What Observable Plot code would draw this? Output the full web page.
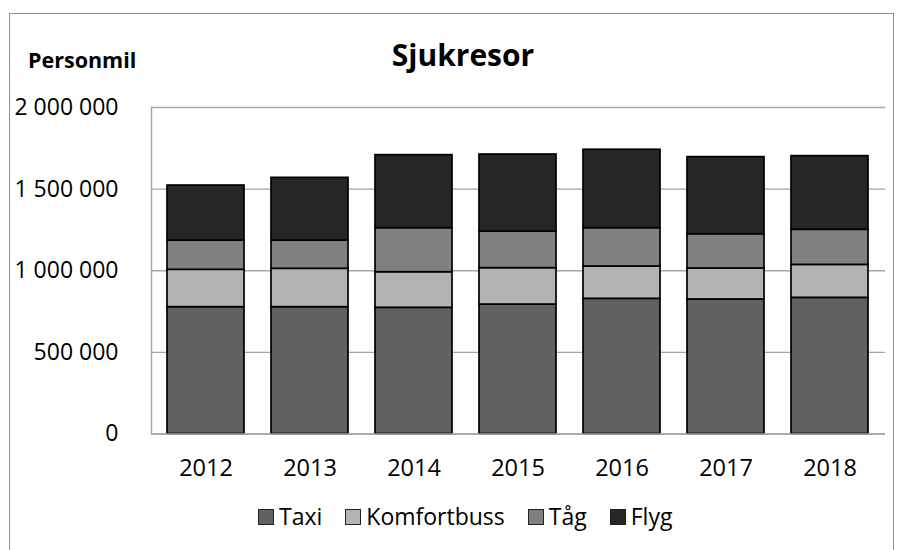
<!DOCTYPE html>
<html>
<head>
<meta charset="utf-8">
<script src="https://cdn.jsdelivr.net/npm/d3@7"></script>
<script src="https://cdn.jsdelivr.net/npm/@observablehq/plot@0.6"></script>
<style>
  html, body { margin: 0; padding: 0; background: #fff; overflow: hidden; }
  #wrap { position: relative; width: 903px; height: 550px; font-family: "Open Sans", sans-serif; color: #000; }
  #border { position: absolute; left: 9px; top: 13px; width: 885px; height: 600px; border: 1.5px solid #8c8c8c; box-sizing: border-box; }
  #chart { position: absolute; left: 0; top: 90px; }
  .txt { position: absolute; line-height: 1; white-space: nowrap; }
  #title { left: 0; width: 926px; text-align: center; top: 40px; font-size: 30px; font-weight: 700; }
  #ylab { left: 28px; top: 49px; font-size: 21.5px; font-weight: 700; }
  #legend { left: 258px; top: 505px; font-size: 23px; display: flex; gap: 23px; }
  .item { display: inline-block; }
  .sw { display: inline-block; width: 16px; height: 16px; border: 1.5px solid #222; box-sizing: border-box; margin-right: 5px; vertical-align: baseline; }
</style>
</head>
<body>
<div id="wrap">
  <div id="border"></div>
  <div id="chart"></div>
  <div id="title" class="txt">Sjukresor</div>
  <div id="ylab" class="txt">Personmil</div>
  <div id="legend" class="txt"></div>
</div>
<script>
const years = ["2012", "2013", "2014", "2015", "2016", "2017", "2018"];
const seriesNames = ["Taxi", "Komfortbuss", "Tåg", "Flyg"];
const taxi        = [777000, 777000, 773000, 793000, 828000, 824000, 834000];
const komfortbuss = [229000, 235000, 218000, 223000, 198000, 190000, 202000];
const tag         = [179000, 173000, 270000, 224000, 235000, 210000, 215000];
const flyg        = [337000, 384000, 447000, 472000, 480000, 472000, 451000];
const seriesColors = ["#616161", "#b3b3b3", "#808080", "#262626"];
const yTicks = [0, 500000, 1000000, 1500000, 2000000];

const seriesValues = [taxi, komfortbuss, tag, flyg];
const rows = [];
seriesNames.forEach((s, i) => {
  years.forEach((y, j) => rows.push({year: y, series: s, value: seriesValues[i][j]}));
});

const fmt = d3.formatLocale({decimal: ",", thousands: " ", grouping: [3], currency: ["", ""]}).format(",");

const plot = Plot.plot({
  width: 903,
  height: 400,
  marginLeft: 151,
  marginRight: 18,
  marginTop: 17,
  marginBottom: 56.5,
  style: {fontFamily: "Open Sans, sans-serif", fontSize: "23px", color: "#000", background: "transparent"},
  x: {domain: years, paddingInner: 0.257, paddingOuter: 0.1285, label: null},
  y: {domain: [0, 2000000], label: null},
  color: {domain: seriesNames, range: seriesColors},
  marks: [
    Plot.gridY(yTicks, {stroke: "#a6a6a6", strokeOpacity: 1, strokeWidth: 1.3}),
    Plot.barY(rows, {x: "year", y: "value", fill: "series", stroke: "#000", strokeWidth: 1.7, inset: 0}),
    Plot.ruleY([0], {stroke: "#a6a6a6", strokeWidth: 1.5}),
    Plot.frame({anchor: "left", stroke: "#a6a6a6", strokeWidth: 1.5}),
    Plot.axisY({ticks: yTicks, tickFormat: fmt, tickSize: 0, tickPadding: 33, fontSize: 23, fill: "#000", label: null}),
    Plot.axisX({tickSize: 0, tickPadding: 25, fontSize: 23.5, fill: "#000", label: null})
  ]
});
document.getElementById("chart").appendChild(plot);

const legend = document.getElementById("legend");
seriesNames.forEach((s, i) => {
  const item = document.createElement("span");
  item.className = "item";
  const sw = document.createElement("span");
  sw.className = "sw";
  sw.style.background = seriesColors[i];
  item.appendChild(sw);
  item.appendChild(document.createTextNode(s));
  legend.appendChild(item);
});
</script>
</body>
</html>
